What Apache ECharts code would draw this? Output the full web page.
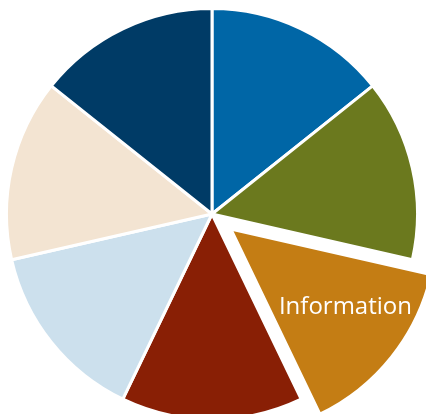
<!DOCTYPE html>
<html>
<head>
<meta charset="utf-8">
<script src="https://cdn.jsdelivr.net/npm/echarts@6/dist/echarts.min.js"></script>
<style>
  html, body { margin: 0; padding: 0; background: #ffffff; }
  #chart { width: 426px; height: 414px; }
</style>
</head>
<body>
<div id="chart"></div>
<script>
// Seven equal segments, clockwise from twelve o'clock
const categories = ['Segment 1', 'Segment 2', 'Information', 'Segment 4', 'Segment 5', 'Segment 6', 'Segment 7'];
const values = [1, 1, 1, 1, 1, 1, 1];
const colors = ['#0066A6', '#6B791E', '#C47D14', '#891F05', '#CCE0ED', '#F3E4D2', '#003B66'];
const labelled = ['Information'];
const pulledOut = ['Information'];

const chart = echarts.init(document.getElementById('chart'), null, { renderer: 'canvas' });

const data = categories.map((name, i) => ({
  name: name,
  value: values[i],
  selected: pulledOut.includes(name),
  itemStyle: { color: colors[i] },
  label: { show: labelled.includes(name) }
}));

chart.setOption({
  animation: false,
  series: [{
    type: 'pie',
    center: [212, 214],
    radius: 205.5,
    startAngle: 90,
    clockwise: true,
    selectedMode: 'single',
    selectedOffset: 24,
    silent: true,
    itemStyle: { borderColor: '#ffffff', borderWidth: 3 },
    label: {
      position: 'inside',
      color: '#ffffff',
      fontFamily: 'Open Sans',
      fontSize: 24,
      formatter: '{b}'
    },
    labelLayout: { dx: 32, dy: 12 },
    labelLine: { show: false },
    emphasis: { disabled: true },
    select: { itemStyle: { borderColor: '#ffffff', borderWidth: 3 } },
    data: data
  }]
});
</script>
</body>
</html>
